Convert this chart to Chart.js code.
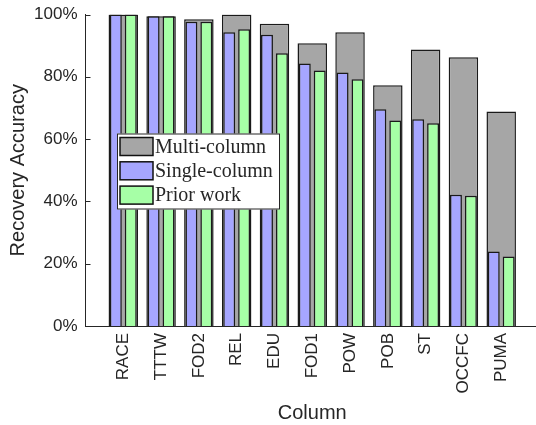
<!DOCTYPE html>
<html>
<head>
<meta charset="utf-8">
<script src="https://cdn.jsdelivr.net/npm/chart.js@4.4.1/dist/chart.umd.min.js"></script>
<style>
  html, body { margin: 0; padding: 0; background: #fff; overflow: hidden; }
  #wrap { width: 539px; height: 425px; }
</style>
</head>
<body>
<div id="wrap"><canvas id="chart"></canvas></div>
<script>
const columns = ['RACE', 'TTTW', 'FOD2', 'REL', 'EDU', 'FOD1', 'POW', 'POB', 'ST', 'OCCFC', 'PUMA'];
const multiColumn = [100, 99.4, 98.5, 100, 97.0, 90.8, 94.3, 77.3, 88.8, 86.3, 68.9];
const singleColumn = [100, 99.4, 97.7, 94.3, 93.5, 84.3, 81.4, 69.6, 66.4, 42.1, 23.9];
const priorWork = [100, 99.4, 97.7, 95.3, 87.6, 82.0, 79.2, 66.0, 65.1, 41.8, 22.3];
const yTicks = [0, 20, 40, 60, 80, 100];

const ink = '#262626';
const toPoints = arr => arr.map((v, i) => ({ x: i + 1, y: v }));

// small ticks pointing into the plot, like the original
const innerTicks = {
  id: 'innerTicks',
  beforeDatasetsDraw(chart) {
    const ctx = chart.ctx;
    const left = chart.chartArea.left;
    ctx.save();
    ctx.strokeStyle = ink;
    ctx.lineWidth = 1;
    yTicks.forEach(v => {
      const py = Math.round(chart.scales.y.getPixelForValue(v)) + 0.5;
      ctx.beginPath();
      ctx.moveTo(left, py);
      ctx.lineTo(left + 5, py);
      ctx.stroke();
    });
    ctx.restore();
  }
};

// legend box sitting inside the plot
const boxLegend = {
  id: 'boxLegend',
  afterDraw(chart) {
    const ctx = chart.ctx;
    const x0 = 117, y0 = 133.5, w = 163, h = 76;
    ctx.save();
    ctx.fillStyle = '#fff';
    ctx.fillRect(x0, y0, w, h);
    ctx.strokeStyle = ink;
    ctx.lineWidth = 1;
    ctx.strokeRect(x0 + 0.5, y0 + 0.5, w - 1, h - 1);
    ctx.font = '20px "Liberation Serif", serif';
    ctx.textBaseline = 'middle';
    chart.data.datasets.forEach((ds, i) => {
      const ry = y0 + 4 + i * 24.3;
      ctx.fillStyle = ds.backgroundColor;
      ctx.fillRect(x0 + 3, ry, 33, 18);
      ctx.strokeStyle = '#111';
      ctx.lineWidth = 1.5;
      ctx.strokeRect(x0 + 3, ry, 33, 18);
      ctx.fillStyle = ink;
      ctx.fillText(ds.label, x0 + 38, ry + 10);
    });
    ctx.restore();
  }
};

new Chart(document.getElementById('chart'), {
  type: 'bar',
  data: {
    datasets: [
      {
        label: 'Multi-column',
        data: toPoints(multiColumn),
        backgroundColor: '#a6a6a6',
        borderColor: '#1a1a1a',
        borderWidth: 1.5,
        grouped: false,
        categoryPercentage: 1,
        barPercentage: 0.78,
        order: 1
      },
      {
        label: 'Single-column',
        data: toPoints(singleColumn),
        backgroundColor: '#a6a6ff',
        borderColor: '#1a1a1a',
        borderWidth: 1.5,
        categoryPercentage: 0.79,
        barPercentage: 0.8,
        order: 0
      },
      {
        label: 'Prior work',
        data: toPoints(priorWork),
        backgroundColor: '#a6ffa6',
        borderColor: '#1a1a1a',
        borderWidth: 1.5,
        categoryPercentage: 0.79,
        barPercentage: 0.8,
        order: 0
      }
    ]
  },
  options: {
    responsive: true,
    maintainAspectRatio: false,
    animation: false,
    layout: { padding: 0 },
    plugins: {
      legend: { display: false },
      tooltip: { enabled: false }
    },
    scales: {
      x: {
        type: 'linear',
        offset: false,
        min: 0,
        max: 12,
        grid: { display: false, drawTicks: false },
        border: { display: true, color: ink, width: 1 },
        afterBuildTicks: scale => {
          scale.ticks = columns.map((c, i) => ({ value: i + 1 }));
        },
        afterFit: scale => { scale.height = 99; },
        ticks: {
          autoSkip: false,
          minRotation: 90,
          maxRotation: 90,
          padding: 7,
          color: ink,
          font: { family: '"Liberation Sans", Arial, sans-serif', size: 17 },
          callback: v => columns[v - 1] || ''
        },
        title: {
          display: true,
          text: 'Column',
          color: ink,
          padding: { top: 0, bottom: 0 },
          font: { family: '"Liberation Sans", Arial, sans-serif', size: 20 }
        }
      },
      y: {
        min: 0,
        max: 100,
        grid: { display: false, drawTicks: false },
        border: { display: true, color: ink, width: 1 },
        afterBuildTicks: scale => {
          scale.ticks = yTicks.map(v => ({ value: v }));
        },
        afterFit: scale => {
          scale.width = 85.5;
          scale.paddingTop = 14.5;
        },
        ticks: {
          padding: 8,
          color: ink,
          font: { family: '"Liberation Sans", Arial, sans-serif', size: 17 },
          callback: v => v + '%'
        },
        title: {
          display: true,
          text: 'Recovery Accuracy',
          color: ink,
          padding: { top: 6, bottom: 0 },
          font: { family: '"Liberation Sans", Arial, sans-serif', size: 20 }
        }
      }
    }
  },
  plugins: [innerTicks, boxLegend]
});
</script>
</body>
</html>
